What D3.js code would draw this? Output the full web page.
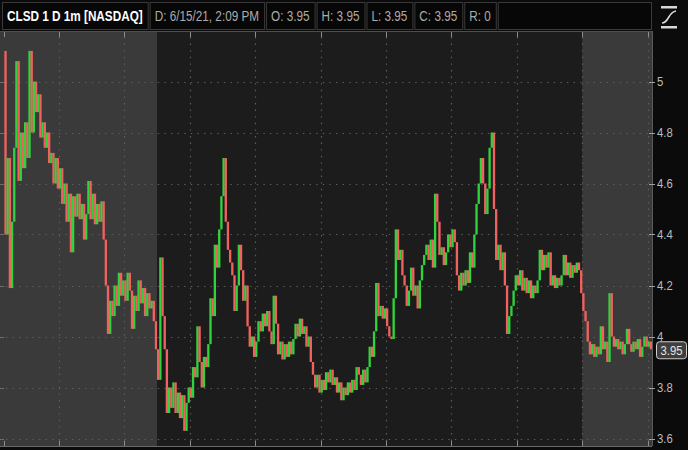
<!DOCTYPE html>
<html><head><meta charset="utf-8">
<script src="https://cdn.jsdelivr.net/npm/d3@7"></script>
<style>
html,body{margin:0;padding:0;background:#0b0b0b;}
svg{display:block;font-family:"Liberation Sans","Arial",sans-serif;}
</style></head><body><svg id="c" width="688" height="450"></svg>
<script>
// ---------- data ----------
const symbolTitle = "CLSD 1 D 1m [NASDAQ]";
const headerFields = ["D: 6/15/21, 2:09 PM", "O: 3.95", "H: 3.95", "L: 3.95", "C: 3.95", "R: 0"];
const yTicks = [3.6, 3.8, 4, 4.2, 4.4, 4.6, 4.8, 5];
const lastPrice = 3.95;
const tradeDay = "2021-06-15";
const viewStart = "07:06", viewEnd = "17:04";
const sessions = [
  {start: "07:06", end: "09:30", type: "ext"},
  {start: "09:30", end: "16:00", type: "reg"},
  {start: "16:00", end: "17:04", type: "ext"}
];
const firstBarTime = "07:10";
const barMinutes = 2;
const firstOpen = 5.12;
const closes = [
4.40,4.70,4.19,4.45,4.74,5.08,4.61,4.80,4.66,4.84,
4.70,5.12,4.80,5.00,4.88,4.95,4.78,4.84,4.74,4.80,
4.68,4.72,4.60,4.70,4.58,4.66,4.52,4.60,4.45,4.56,
4.33,4.55,4.47,4.56,4.46,4.52,4.38,4.48,4.61,4.46,
4.56,4.44,4.52,4.45,4.53,4.38,4.20,4.01,4.14,4.08,
4.20,4.12,4.25,4.16,4.22,4.14,4.25,4.18,4.03,4.16,
4.10,4.22,4.13,4.19,4.08,4.17,4.11,4.14,4.06,3.95,
3.83,4.31,4.08,3.95,3.70,3.80,3.72,3.82,3.70,3.78,
3.68,3.77,3.63,3.74,3.80,3.76,3.88,3.84,4.04,3.90,
3.80,3.92,3.88,3.97,4.15,4.08,4.36,4.27,4.42,4.55,
4.70,4.45,4.34,4.29,4.24,4.10,4.20,4.36,4.26,4.14,
4.20,4.04,3.96,4.00,3.92,3.98,4.06,4.02,4.09,4.04,
4.10,4.02,3.97,4.16,4.05,3.93,3.98,3.91,3.97,3.92,
3.98,3.93,3.99,4.05,4.00,4.07,4.01,4.04,3.96,4.00,
3.90,3.85,3.80,3.85,3.78,3.83,3.79,3.86,3.82,3.87,
3.81,3.84,3.78,3.82,3.75,3.80,3.77,3.82,3.78,3.83,
3.79,3.88,3.85,3.81,3.87,3.82,3.88,3.96,3.92,4.02,
4.21,4.08,4.12,4.07,4.11,4.04,4.00,3.99,4.15,4.42,
4.30,4.34,4.24,4.20,4.12,4.18,4.27,4.16,4.20,4.11,
4.22,4.28,4.32,4.36,4.30,4.38,4.27,4.56,4.45,4.32,
4.35,4.28,4.33,4.40,4.35,4.42,4.37,4.24,4.18,4.25,
4.20,4.26,4.21,4.33,4.27,4.40,4.52,4.60,4.70,4.60,
4.48,4.58,4.74,4.80,4.50,4.30,4.36,4.26,4.33,4.20,
4.01,4.08,4.12,4.18,4.24,4.20,4.26,4.18,4.23,4.17,
4.22,4.15,4.20,4.17,4.22,4.34,4.26,4.32,4.27,4.33,
4.20,4.24,4.19,4.23,4.20,4.24,4.32,4.24,4.29,4.23,
4.28,4.25,4.29,4.26,4.17,4.10,4.06,3.98,3.93,3.97,
3.92,3.96,3.93,4.04,3.95,3.98,3.90,4.17,4.00,3.96,
3.99,3.95,3.98,3.93,3.97,4.03,3.97,3.94,3.98,3.95,
3.99,3.92,3.96,4.00,3.96,3.98,3.95
];

// ---------- layout ----------
const W = 688, H = 450;
const plot = {left: 0, right: 652, top: 31, bottom: 446};
const NARROW = 0.84;
const C = {
  page: "#0b0b0b", reg: "#1c1c1c", ext: "#3a3a3a", grid: "#5e5e5e",
  border: "#4e4e4e", up: "#2fd33c", down: "#f0625f", label: "#bcbcbc"
};

const svg = d3.select("#c");
svg.append("rect").attr("width", W).attr("height", H).attr("fill", C.page);

const parse = d3.timeParse("%Y-%m-%d %H:%M");
const t = s => parse(tradeDay + " " + s);

const x = d3.scaleTime().domain([t(viewStart), t(viewEnd)]).range([plot.left, plot.right]);
const y = d3.scaleLinear().domain([3.6, 5]).range([438.5, 81.5]);

// session backgrounds
svg.append("g").selectAll("rect").data(sessions).join("rect")
  .attr("x", d => x(t(d.start))).attr("y", plot.top)
  .attr("width", d => x(t(d.end)) - x(t(d.start)))
  .attr("height", plot.bottom - plot.top)
  .attr("fill", d => d.type === "reg" ? C.reg : C.ext);

// grid
const hours = x.ticks(d3.timeHour.every(1));
const gridG = svg.append("g").attr("stroke", C.grid).attr("stroke-width", 1.2).attr("stroke-dasharray", "1.4 5.2");
gridG.selectAll("line.v").data(hours).join("line").attr("class", "v")
  .attr("x1", d => Math.round(x(d)) + 0.5).attr("x2", d => Math.round(x(d)) + 0.5)
  .attr("y1", plot.top + 6).attr("y2", plot.bottom);
gridG.selectAll("line.h").data(yTicks).join("line").attr("class", "h")
  .attr("x1", plot.left + 6).attr("x2", plot.right)
  .attr("y1", d => Math.round(y(d)) + 0.5).attr("y2", d => Math.round(y(d)) + 0.5);

// bars
const firstT = t(firstBarTime);
const bars = closes.map((c, i) => ({
  time: d3.timeMinute.offset(firstT, i * barMinutes),
  open: i === 0 ? firstOpen : closes[i - 1],
  close: c
}));
const step = x(d3.timeMinute.offset(firstT, barMinutes)) - x(firstT);
const bw = step + 0.15;
svg.append("g").selectAll("rect").data(bars).join("rect")
  .attr("x", d => x(d.time))
  .attr("width", bw)
  .attr("y", d => y(Math.max(d.open, d.close)))
  .attr("height", d => Math.max(1.2, Math.abs(y(d.open) - y(d.close))))
  .attr("fill", d => d.close >= d.open ? C.up : C.down);

// borders
svg.append("line").attr("x1", 0).attr("x2", plot.right).attr("y1", plot.top + 0.5).attr("y2", plot.top + 0.5).attr("stroke", C.border);
svg.append("line").attr("x1", 0).attr("x2", plot.right).attr("y1", plot.bottom + 0.5).attr("y2", plot.bottom + 0.5).attr("stroke", "#6a6a6a");
svg.append("line").attr("x1", plot.right + 0.5).attr("x2", plot.right + 0.5).attr("y1", plot.top).attr("y2", plot.bottom).attr("stroke", "#5a5a5a");

// time tick marks (top & bottom)
const tickTimes = [firstT].concat(hours);
const tg = svg.append("g").attr("stroke", "#8c8c8c").attr("stroke-width", 1);
tg.selectAll("line.t").data(tickTimes).join("line").attr("class", "t")
  .attr("x1", d => Math.round(x(d)) + 0.5).attr("x2", d => Math.round(x(d)) + 0.5)
  .attr("y1", plot.top + 1).attr("y2", plot.top + 6);
tg.selectAll("line.b").data(tickTimes).join("line").attr("class", "b")
  .attr("x1", d => Math.round(x(d)) + 0.5).attr("x2", d => Math.round(x(d)) + 0.5)
  .attr("y1", plot.bottom - 5).attr("y2", plot.bottom);
tg.selectAll("line.l").data(yTicks).join("line").attr("class", "l")
  .attr("x1", 0).attr("x2", 4)
  .attr("y1", d => Math.round(y(d)) + 0.5).attr("y2", d => Math.round(y(d)) + 0.5)
  .attr("stroke", "#6e6e6e");

// y axis (right)
const yAxisG = svg.append("g");
yAxisG.selectAll("line").data(yTicks).join("line")
  .attr("x1", plot.right - 3).attr("x2", plot.right + 3)
  .attr("y1", d => Math.round(y(d)) + 0.5).attr("y2", d => Math.round(y(d)) + 0.5)
  .attr("stroke", "#a0a0a0");
yAxisG.selectAll("text").data(yTicks).join("text")
  .attr("transform", d => `translate(${plot.right + 5},${y(d)}) scale(${NARROW},1)`)
  .attr("dy", "0.36em")
  .attr("fill", C.label).attr("font-size", 13.5)
  .text(d => d3.format("")(d));

// last price bubble
const lp = svg.append("g");
const ly = y(lastPrice) + 1;
lp.append("rect").attr("x", 656.5).attr("y", ly - 8.5).attr("width", 30).attr("height", 17)
  .attr("rx", 3).attr("fill", "#3e3e3e").attr("stroke", "#cfcfcf").attr("stroke-width", 1);
lp.append("text").attr("transform", `translate(671.5,${ly}) scale(${NARROW},1)`).attr("dy", "0.36em")
  .attr("text-anchor", "middle").attr("fill", "#e4e4e4").attr("font-size", 13.5).text(d3.format(".2f")(lastPrice));

// header
const hdr = svg.append("g");
let cx = 2;
const fields = [{text: symbolTitle, bold: true}].concat(headerFields.map(f => ({text: f, bold: false})));
fields.forEach(f => {
  const rect = hdr.append("rect");
  const txt = hdr.append("text").attr("transform", `translate(${cx + 5},21) scale(${NARROW},1)`)
    .attr("font-size", 14).attr("font-weight", f.bold ? "bold" : "normal")
    .attr("fill", f.bold ? "#ffffff" : "#ababab").text(f.text);
  const w = txt.node().getComputedTextLength() * NARROW + 10;
  rect.attr("x", cx + 0.5).attr("y", 2.5).attr("width", w).attr("height", 27)
    .attr("fill", "#070707").attr("stroke", "#3a3a3a");
  cx += w + 2;
});
hdr.append("rect").attr("x", cx + 0.5).attr("y", 2.5).attr("width", plot.right - cx - 1).attr("height", 27)
  .attr("fill", "#070707").attr("stroke", "#3a3a3a");

// icon top-right
const ic = svg.append("g").attr("fill", "#d8d8d8");
ic.append("rect").attr("x", 661).attr("y", 6).attr("width", 16).attr("height", 2.5);
ic.append("rect").attr("x", 661).attr("y", 26).attr("width", 16).attr("height", 2.5);
ic.append("path").attr("d", "M662,23 C669,23 668,12 676,11").attr("fill", "none")
  .attr("stroke", "#d8d8d8").attr("stroke-width", 1.6);
</script></body></html>
